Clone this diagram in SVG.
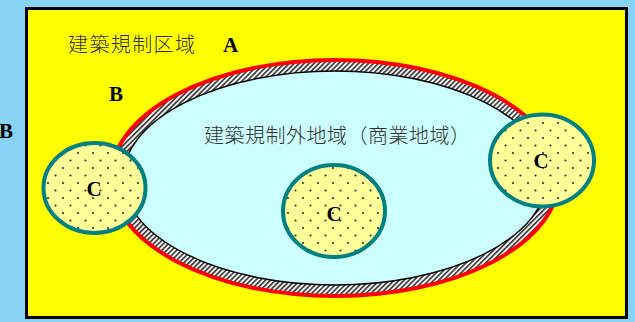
<svg xmlns="http://www.w3.org/2000/svg" width="635" height="322" viewBox="0 0 635 322">
<style>
.jp{font-family:"Noto Sans CJK JP","Noto Sans CJK SC",sans-serif;font-size:20px;font-weight:300;fill:#333}
.lbl{font-family:"Liberation Serif","DejaVu Serif",serif;font-weight:bold;font-size:21px;fill:#000}
.c{fill:url(#dots);stroke:#008080;stroke-width:4}
</style>
<defs>
<pattern id="hatch" width="3.5" height="4" patternUnits="userSpaceOnUse" patternTransform="rotate(45)">
<rect width="3.5" height="4" fill="#fff"/>
<rect width="1.8" height="4" fill="#444"/>
</pattern>
<pattern id="dots" width="15" height="15" patternUnits="userSpaceOnUse">
<rect width="15" height="15" fill="#ffff99"/>
<circle cx="3" cy="3" r="1.1" fill="#333"/>
<circle cx="10.5" cy="10.5" r="1.1" fill="#333"/>
</pattern>
</defs>
<rect width="635" height="322" fill="#87d3f5"/>
<g id="area-A">
<rect x="26.5" y="8.5" width="600" height="309" fill="#ffff00" stroke="#000" stroke-width="3"/>
<text class="jp" x="68" y="52" textLength="127">建築規制区域</text>
<text class="lbl" x="223" y="52">A</text>
</g>
<g id="area-B">
<ellipse cx="335" cy="178" rx="224" ry="118" fill="url(#hatch)" stroke="#ff0000" stroke-width="4"/>
<text class="lbl" x="109" y="101">B</text>
</g>
<text class="lbl" x="-1" y="138">B</text>
<g id="area-commercial">
<ellipse cx="335" cy="178" rx="212" ry="107" fill="#ccffff" stroke="#000" stroke-width="1.5"/>
<text class="jp" x="204" y="143" textLength="266">建築規制外地域（商業地域）</text>
</g>
<g id="C-left">
<ellipse class="c" cx="94.5" cy="188" rx="51" ry="45"/>
<text class="lbl" x="94" y="196" text-anchor="middle">C</text>
</g>
<g id="C-middle">
<ellipse class="c" cx="334" cy="211" rx="51" ry="46"/>
<text class="lbl" x="334" y="221" text-anchor="middle">C</text>
</g>
<g id="C-right">
<ellipse class="c" cx="542" cy="160.5" rx="52" ry="46"/>
<text class="lbl" x="541" y="168" text-anchor="middle">C</text>
</g>
<g id="connectors"/>
</svg>
